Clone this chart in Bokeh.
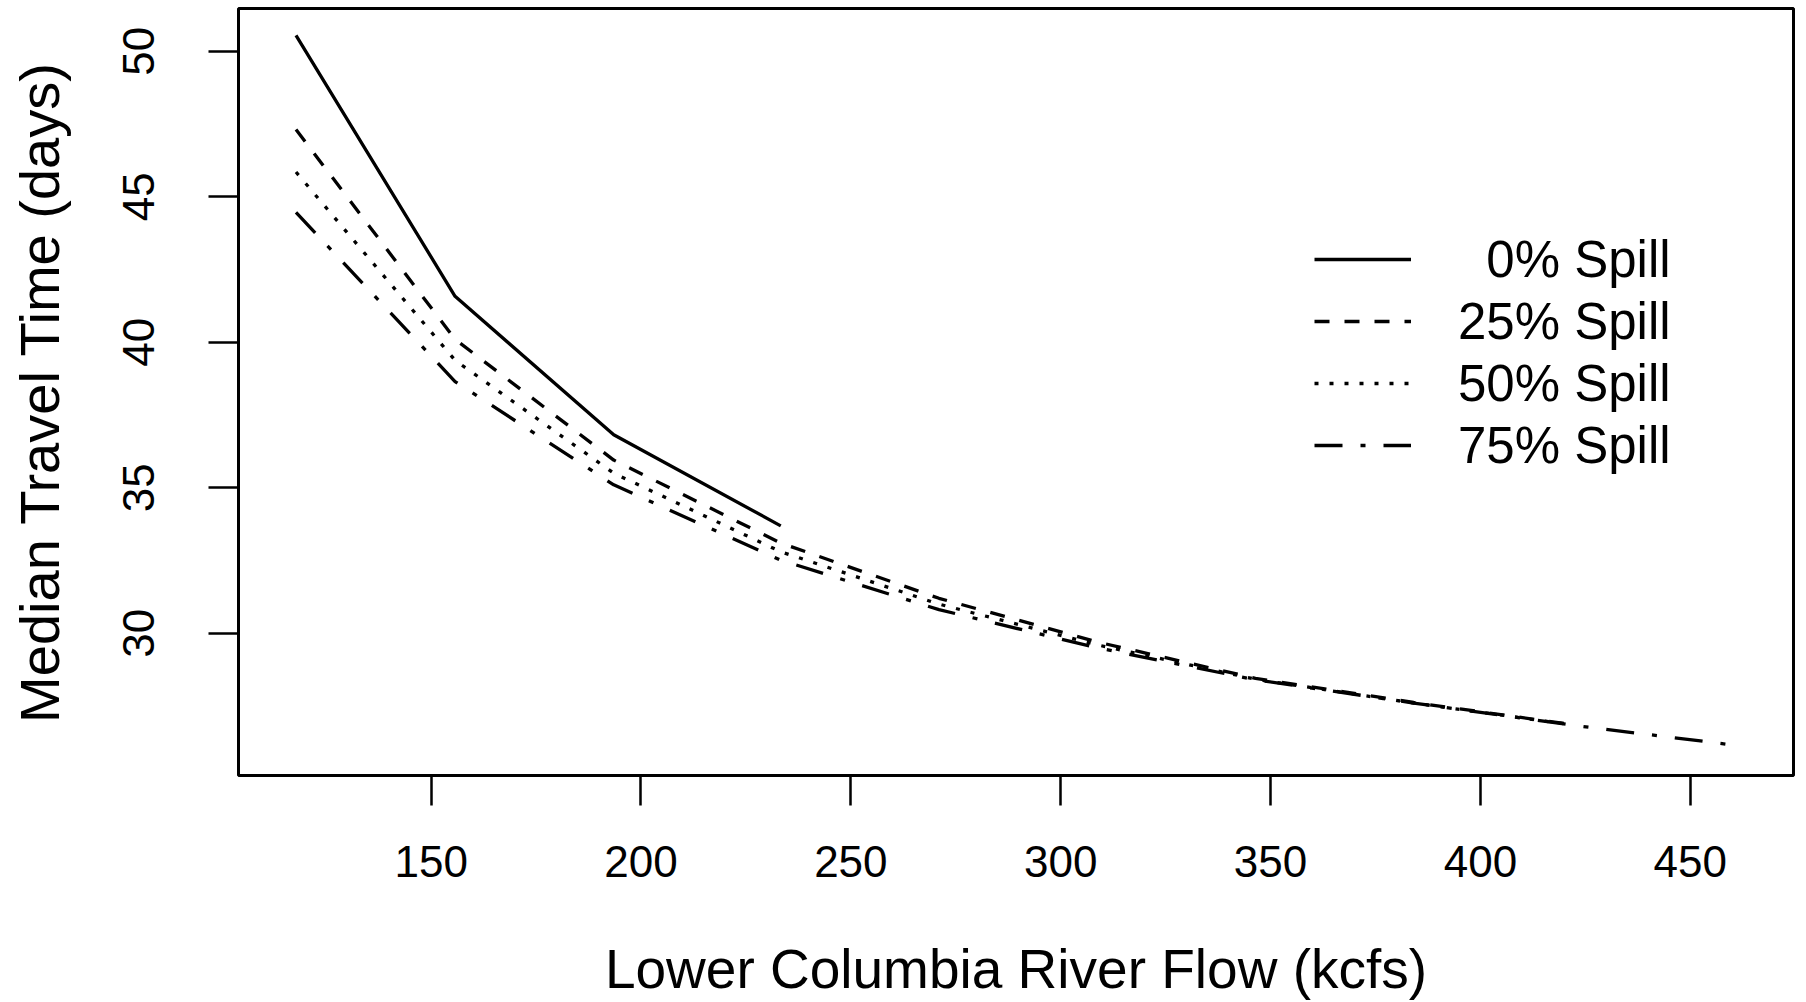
from bokeh.plotting import figure
from bokeh.models import Range1d, Legend, LegendItem, FixedTicker
from bokeh.embed import file_html
from bokeh.resources import INLINE

# ---- data ----
flow = [117.8, 155.7, 193.5, 233.3, 271.0, 308.7, 346.4, 384.1, 421.9, 459.6]
spill0 = [50.55, 41.58, 36.82, 33.69]
spill25 = [47.31, 40.10, 35.95, 33.10, 31.20, 29.70, 28.45, 27.62, 26.86]
spill50 = [45.85, 39.38, 35.50, 32.80, 31.00, 29.60, 28.42, 27.60, 26.85]
spill75 = [44.46, 38.65, 35.10, 32.51, 30.81, 29.50, 28.40, 27.60, 26.84, 26.17]
labels = ["\u20070% Spill", "25% Spill", "50% Spill", "75% Spill"]
x_ticks = [150, 200, 250, 300, 350, 400, 450]
y_ticks = [30, 35, 40, 45, 50]
x_title = "Lower Columbia River Flow (kcfs)"
y_title = "Median Travel Time (days)"

FONT = "Liberation Sans"

p = figure(width=1797, height=1002, output_backend="svg", toolbar_location=None,
           x_range=Range1d(104.1, 474.6), y_range=Range1d(25.11, 51.47),
           min_border_left=238, min_border_right=4, min_border_top=8, min_border_bottom=227)

p.background_fill_color = "white"
p.border_fill_color = "white"
p.outline_line_color = "black"
p.outline_line_width = 3
p.xgrid.visible = False
p.ygrid.visible = False

r0 = p.line(flow[:len(spill0)], spill0, line_color="black", line_width=3.3)
r25 = p.line(flow[:len(spill25)], spill25, line_color="black", line_width=3.3, line_dash="15 15")
r50 = p.line(flow[:len(spill50)], spill50, line_color="black", line_width=3.3, line_dash="4 11")
r75 = p.line(flow[:len(spill75)], spill75, line_color="black", line_width=3.3, line_dash="28 18 5 18")

for ax in (p.xaxis[0], p.yaxis[0]):
    ax.axis_line_color = None
    ax.major_tick_line_color = "black"
    ax.major_tick_line_width = 2.5
    ax.major_tick_out = 30
    ax.major_tick_in = 0
    ax.minor_tick_line_color = None
    ax.major_label_text_font = FONT
    ax.major_label_text_font_size = "44px"
    ax.major_label_text_color = "black"
    ax.axis_label_text_font = FONT
    ax.axis_label_text_font_style = "normal"
    ax.axis_label_text_color = "black"

p.xaxis.ticker = FixedTicker(ticks=x_ticks)
p.yaxis.ticker = FixedTicker(ticks=y_ticks)
p.xaxis.axis_label = x_title
p.yaxis.axis_label = y_title
p.xaxis.axis_label_text_font_size = "55px"
p.yaxis.axis_label_text_font_size = "56px"
p.xaxis.major_label_standoff = 40
p.xaxis.axis_label_standoff = 58
p.yaxis.major_label_orientation = "vertical"
p.yaxis.major_label_standoff = 54
p.yaxis.axis_label_standoff = 50

legend = Legend(
    items=[LegendItem(label=labels[0], renderers=[r0]),
           LegendItem(label=labels[1], renderers=[r25]),
           LegendItem(label=labels[2], renderers=[r50]),
           LegendItem(label=labels[3], renderers=[r75])],
    location=(1076, 299), glyph_width=97, glyph_height=62, label_height=62,
    label_standoff=47, spacing=0, padding=0, margin=0,
    border_line_color=None, background_fill_alpha=0,
    label_text_font=FONT, label_text_font_size="51px", label_text_color="black",
)
p.add_layout(legend)

open("out.html", "w").write(file_html(p, INLINE))
